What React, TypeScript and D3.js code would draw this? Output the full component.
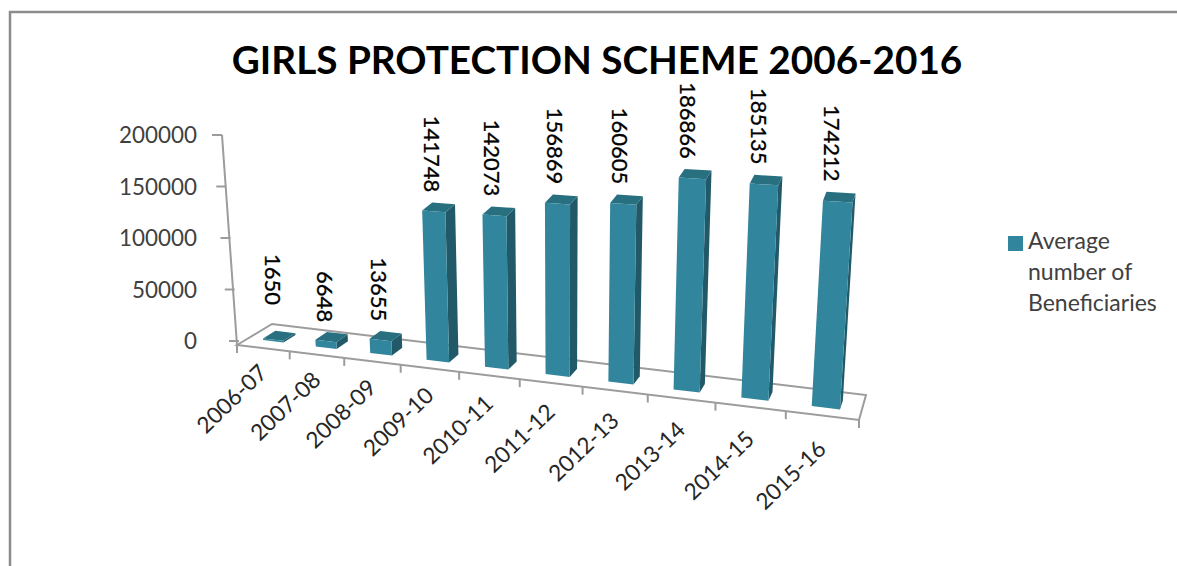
import * as d3 from 'd3';

const title = 'GIRLS PROTECTION SCHEME 2006-2016';
const categories = ['2006-07', '2007-08', '2008-09', '2009-10', '2010-11', '2011-12', '2012-13', '2013-14', '2014-15', '2015-16'];
const beneficiaries = [1650, 6648, 13655, 141748, 142073, 156869, 160605, 186866, 185135, 174212];
const valueTicks = [0, 50000, 100000, 150000, 200000];
const legendLines = ['Average', 'number of', 'Beneficiaries'];

const FRONT_COLOR = '#31859c';
const SIDE_COLOR = '#215968';
const TOP_COLOR = '#28707f';
const AXIS_COLOR = '#9c9c9c';
const TEXT_COLOR = '#404040';
const FONT = 'Lato, sans-serif';

// fake 3d: floor is a quad, ticks get wider towards the viewer
const perspective = (t: number) => t / (t + 1.2 * (1 - t));
const u = d3.scaleLinear().domain([0, categories.length]).range([0, 1]);
const frontX = d3.scaleLinear().domain([0, 1]).range([237, 859]);
const frontY = d3.scaleLinear().domain([0, 1]).range([345, 420]);
const backX = d3.scaleLinear().domain([0, 1]).range([272, 866]);
const backY = d3.scaleLinear().domain([0, 1]).range([324, 395]);

const band = d3.scaleBand<string>().domain(categories).range([0, categories.length]).paddingInner(0.61).paddingOuter(0.29);

const valueHeight = d3.scaleLinear().domain([0, 200000]).range([0, 207]);
const growth = d3.scaleLinear().domain([0, 1]).range([0.96, 1.155]);
const wallX = d3.scaleLinear().domain([0, 200000]).range([239, 222]);
const wallY = d3.scaleLinear().domain([0, 200000]).range([341, 135]);
const labelShift = d3.scaleLinear().domain([0, 1]).range([-13, -9]);
const catDrop = d3.scaleLinear().domain([0, 1]).range([20, 30]);

type Pt = [number, number];

function project(pos: number, depth: number, value: number): Pt {
  const f = perspective(u(pos));
  const x = frontX(f) + (backX(f) - frontX(f)) * depth;
  const y = frontY(f) + (backY(f) - frontY(f)) * depth;
  const h = valueHeight(value) * growth(f);
  // verticals fan out from a point far below the chart
  const lean = (x - 562) / 4575;
  return [x + h * lean, y - h];
}

const poly = d3.line<Pt>().curve(d3.curveLinearClosed);

const DEPTH_0 = 0.32;
const DEPTH_1 = 0.68;

export default function App() {
  const bars = categories.map((c, i) => {
    const a = band(c) as number;
    const b = a + band.bandwidth();
    const v = beneficiaries[i];
    const fbl = project(a, DEPTH_0, 0);
    const fbr = project(b, DEPTH_0, 0);
    const bbr = project(b, DEPTH_1, 0);
    const ftl = project(a, DEPTH_0, v);
    const ftr = project(b, DEPTH_0, v);
    const btl = project(a, DEPTH_1, v);
    const btr = project(b, DEPTH_1, v);
    const mid = a + band.bandwidth() / 2;
    return {
      c, v, i,
      front: [fbl, fbr, ftr, ftl] as Pt[],
      side: [fbr, bbr, btr, ftr] as Pt[],
      top: [ftl, ftr, btr, btl] as Pt[],
      labelAt: project(mid, DEPTH_1, v),
      f: perspective(u(mid)),
    };
  });

  const floorFL = project(0, 0, 0);
  const floorFR = project(categories.length, 0, 0);
  const floorBL = project(0, 1, 0);
  const floorBR = project(categories.length, 1, 0);

  return (
    <svg width={1177} height={566} style={{ position: 'absolute', left: 0, top: 0, background: '#fff' }} fontFamily={FONT}>
      <path d="M10,566V12H1177" fill="none" stroke="#8c8c8c" strokeWidth={2.5} />

      <text x={597} y={74} textAnchor="middle" fontSize={38.7} fontWeight={700} fill="#000">{title}</text>

      {/* floor */}
      <g fill="none" stroke={AXIS_COLOR} strokeWidth={2}>
        <path d={`M${floorFL}L${floorFR}L${floorBR}L${floorBL}Z`} />
        <path d={`M${wallX(200000)},${wallY(200000)}L${floorFL}`} />
        {d3.range(categories.length + 1).map(i => {
          const [x, y] = project(i, 0, 0);
          return <path key={i} d={`M${x},${y}V${y + 8}`} />;
        })}
        {valueTicks.map(t => (
          <path key={t} d={`M${wallX(t) - 10},${wallY(t)}H${wallX(t)}`} />
        ))}
      </g>

      {valueTicks.map(t => (
        <text key={t} x={197} y={wallY(t) + 8} textAnchor="end" fontSize={22.4} fill={TEXT_COLOR}>{t}</text>
      ))}

      {bars.map(b => (
        <g key={b.c}>
          <path d={poly(b.side) as string} fill={SIDE_COLOR} />
          <path d={poly(b.top) as string} fill={TOP_COLOR} />
          <path d={poly(b.front) as string} fill={FRONT_COLOR} />
          {/* first label sits further up in the original */}
          <text
            transform={`translate(${b.labelAt[0] + labelShift(b.f)},${b.labelAt[1] - 11 - (b.i === 0 ? 16 : 0)}) rotate(90)`}
            textAnchor="end"
            fontSize={22}
            fill="#000"
            stroke="#000"
            strokeWidth={0.3}
            dy="0.35em"
          >
            {b.v}
          </text>
        </g>
      ))}

      {categories.map((c, i) => {
        const [x, y] = project(i + 0.5, 0, 0);
        const drop = catDrop(perspective(u(i + 0.5)));
        return (
          <text key={c} transform={`translate(${x},${y + drop}) rotate(-44)`} textAnchor="end" fontSize={22.6} fill="#262626" dy="0.35em">{c}</text>
        );
      })}

      <rect x={1008} y={236} width={15} height={15} fill={FRONT_COLOR} />
      {legendLines.map((l, i) => (
        <text key={l} x={1028} y={248.5 + i * 31} fontSize={23} fill={TEXT_COLOR}>{l}</text>
      ))}
    </svg>
  );
}
